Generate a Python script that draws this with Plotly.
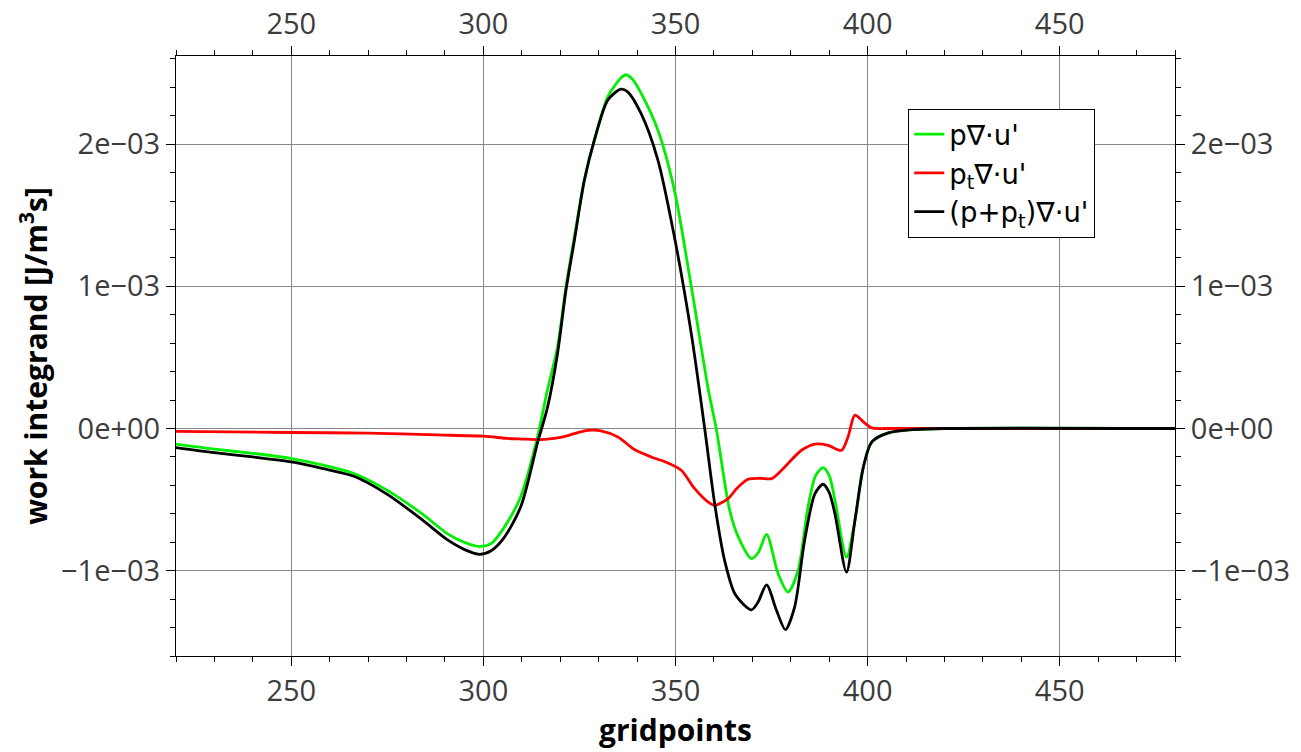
import plotly.graph_objects as go

# values, y in units of 1e-3 J/m^3s
SCALE = 1e-3

green_x = [220, 230, 240, 250, 258, 266, 275, 284, 290.6, 295, 299, 302, 305.2, 309.7,
           314, 316.5, 319.3, 321.5, 323.7, 326.3, 328.9, 332.4, 335.8, 337.1, 339, 341,
           345.4, 349.7, 354.1, 358.5, 360.6, 364.1, 366.3, 369.8, 371.6, 373.7, 376.7,
           379.3, 381.9, 384.5, 386.5, 388.4, 390, 391.5, 394.5, 396.7, 398.9, 401.1,
           405.4, 412, 420, 480]
green_y = [-0.11, -0.145, -0.175, -0.211, -0.255, -0.313, -0.435, -0.599, -0.739, -0.80,
           -0.83, -0.81, -0.704, -0.48, -0.07, 0.25, 0.575, 0.997, 1.35, 1.749, 2.03,
           2.335, 2.465, 2.488, 2.45, 2.36, 2.1, 1.678, 1.0, 0.28, 0.0, -0.575, -0.76,
           -0.915, -0.87, -0.744, -1.02, -1.15, -1.0, -0.55, -0.33, -0.275, -0.33, -0.505,
           -0.904, -0.646, -0.27, -0.094, -0.031, -0.007, 0.0, 0.0]

red_x = [220, 250, 270, 288, 300, 306.3, 310, 315, 318.4, 322, 325, 328, 330.6, 335,
         339.3, 343.7, 348, 351.5, 355, 358.5, 360.2, 363.7, 366, 368.9, 372, 375, 377.6,
         379.3, 382.8, 386.3, 389.7, 393.2, 394.9, 396.7, 398.9, 401.1, 405, 480]
red_y = [-0.02, -0.028, -0.033, -0.045, -0.054, -0.07, -0.074, -0.078, -0.07, -0.05,
         -0.025, -0.012, -0.017, -0.059, -0.148, -0.2, -0.242, -0.294, -0.423, -0.517,
         -0.54, -0.493, -0.42, -0.357, -0.35, -0.352, -0.294, -0.246, -0.153, -0.11,
         -0.118, -0.153, -0.059, 0.094, 0.047, 0.004, 0.0, 0.0]

black_x = [220, 230, 240, 250, 258, 266.3, 275, 283.7, 290.6, 295, 299, 302, 305.2, 309.7,
           314.1, 316.7, 319.3, 321.5, 323.7, 326.3, 328.9, 332.4, 335.8, 337.5, 341,
           345.4, 349.7, 354.1, 357.6, 360.2, 362.8, 365.6, 369.8, 371.5,
           373.7, 376.3, 378.6, 381, 383.6, 386.3, 388.4, 390, 391.5, 394.5, 396.7, 398.9,
           401.1, 405.4, 412.4, 420, 480]
black_y = [-0.134, -0.17, -0.2, -0.235, -0.28, -0.336, -0.463, -0.634, -0.782, -0.85,
           -0.885, -0.86, -0.775, -0.552, -0.1, 0.15, 0.528, 0.974, 1.326, 1.749, 2.03,
           2.31, 2.387, 2.37, 2.218, 1.89, 1.35, 0.669, 0.0, -0.53, -0.93, -1.17,
           -1.275, -1.22, -1.10, -1.28, -1.415, -1.256, -0.787, -0.458, -0.392,
           -0.45, -0.6, -1.01, -0.646, -0.27, -0.094, -0.031, -0.007, 0.0, 0.0]

y_tickvals = [-1e-3, 0, 1e-3, 2e-3]
y_ticktext = ["\u22121e\u221203", "0e+00", "1e\u221203", "2e\u221203"]

series = [
    ("p\u2207\u00b7u'", green_x, green_y, "#00ee00"),
    ("p<sub>t</sub>\u2207\u00b7u'", red_x, red_y, "#ff0000"),
    ("(p+p<sub>t</sub>)\u2207\u00b7u'", black_x, black_y, "#000000"),
]

fig = go.Figure()
for name, xs, ys, col in series:
    fig.add_trace(go.Scatter(
        x=xs, y=[v * SCALE for v in ys], name=name, mode="lines",
        line=dict(color=col, width=2.8, shape="spline", smoothing=0.8),
    ))

# empty trace so the mirrored top/right axes get drawn
fig.add_trace(go.Scatter(x=[], y=[], xaxis="x2", yaxis="y2", showlegend=False, hoverinfo="skip"))

tick_font = dict(family="Open Sans", size=29, color="#3c3c3c")
x_common = dict(range=[220, 480], tickmode="linear", tick0=0, dtick=50,
                ticks="outside", ticklen=9, tickcolor="black", showline=True,
                linecolor="black", linewidth=1, tickfont=tick_font, zeroline=False,
                automargin=False,
                minor=dict(tickmode="linear", tick0=0, dtick=10, ticks="outside",
                           ticklen=5, tickcolor="black", showgrid=False))
y_common = dict(range=[-1.6e-3, 2.62e-3], tickmode="array", tickvals=y_tickvals,
                ticktext=y_ticktext, ticks="outside", ticklen=9, tickcolor="black",
                showline=True, linecolor="black", linewidth=1, tickfont=tick_font,
                zeroline=False, automargin=False,
                minor=dict(tickmode="linear", tick0=0, dtick=0.2e-3, ticks="outside",
                           ticklen=5, tickcolor="black", showgrid=False))

fig.update_layout(
    width=1301, height=752,
    margin=dict(l=176, r=126, t=56, b=96),
    plot_bgcolor="white", paper_bgcolor="white",
    xaxis=dict(**x_common, showgrid=True, gridcolor="#888888", gridwidth=1,
               title=dict(text="<b>gridpoints</b>", standoff=2,
                          font=dict(family="Open Sans", size=30, color="black"))),
    yaxis=dict(**y_common, showgrid=True, gridcolor="#888888", gridwidth=1,
               title=dict(text="<b>work integrand [J/m<sup>3</sup>s]</b>", standoff=4,
                          font=dict(family="Open Sans", size=30, color="black"))),
    xaxis2=dict(**x_common, overlaying="x", side="top", showgrid=False),
    yaxis2=dict(**y_common, overlaying="y", side="right", showgrid=False),
    legend=dict(x=0.733, y=0.912, xanchor="left", yanchor="top",
                bgcolor="white", bordercolor="black", borderwidth=1,
                font=dict(family="DejaVu Sans", size=27.5, color="black")),
    showlegend=True,
)

# drop the browser's default 8px body margin so the figure fills the window
fig.write_html("out.html", config={"displayModeBar": False},
               post_script="document.body.style.margin='0';")
